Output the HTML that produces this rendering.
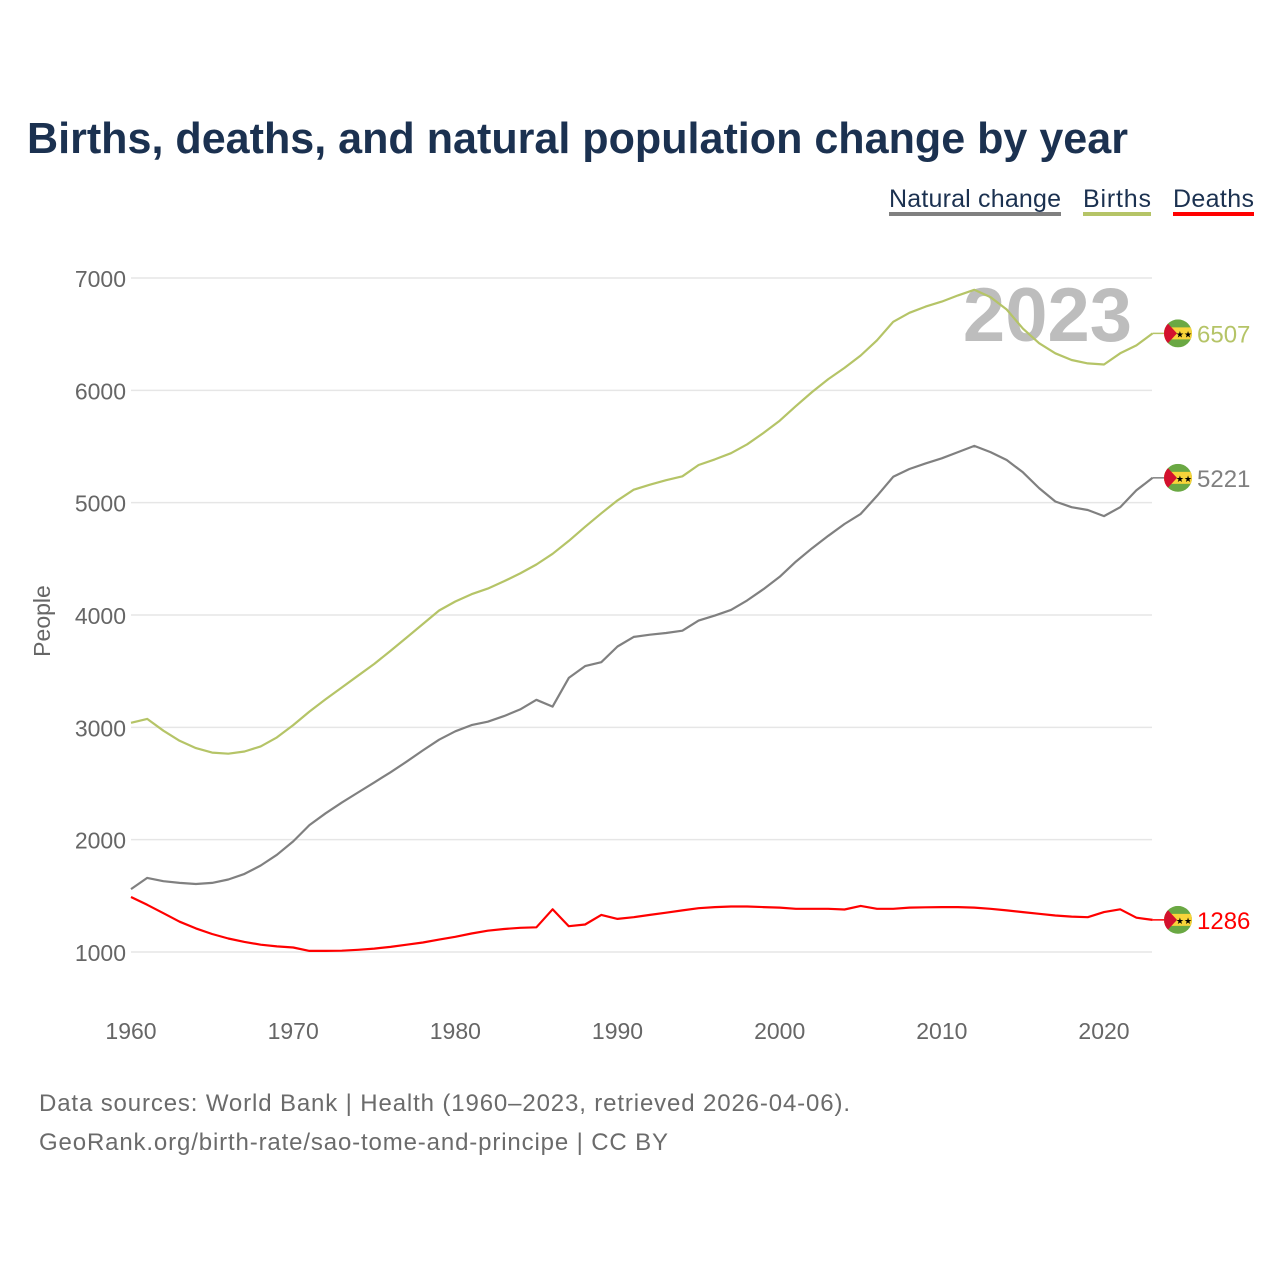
<!DOCTYPE html>
<html><head><meta charset="utf-8">
<style>
body{margin:0;background:#fff;font-family:"Liberation Sans",sans-serif;}
#wrap{position:relative;width:1280px;height:1280px;overflow:hidden;}
</style></head>
<body>
<div id="wrap">
<svg id="chart" width="1280" height="1280"></svg>
</div>
<script>
const years = [];
for (let y = 1960; y <= 2023; y++) years.push(y);
const births = [3040,3075,2970,2880,2815,2775,2765,2785,2830,2910,3020,3140,3250,3355,3460,3565,3680,3800,3920,4040,4120,4185,4235,4300,4370,4450,4545,4660,4785,4905,5020,5115,5160,5200,5235,5335,5385,5440,5520,5620,5730,5860,5985,6100,6200,6310,6445,6610,6690,6745,6790,6845,6895,6830,6720,6550,6420,6330,6270,6240,6230,6330,6400,6507];
const natural = [1560,1660,1630,1615,1605,1615,1645,1695,1770,1865,1985,2130,2235,2330,2420,2510,2600,2695,2795,2890,2965,3020,3050,3100,3160,3245,3185,3440,3545,3580,3720,3805,3825,3840,3860,3950,3995,4045,4130,4230,4340,4475,4595,4705,4810,4900,5060,5230,5300,5350,5395,5450,5505,5450,5380,5270,5130,5010,4960,4935,4880,4960,5110,5221];
const deaths = [1490,1420,1345,1270,1210,1160,1120,1090,1065,1050,1040,1010,1010,1012,1020,1030,1045,1065,1085,1110,1135,1165,1190,1205,1215,1220,1380,1230,1245,1330,1295,1310,1330,1350,1370,1390,1400,1405,1405,1400,1395,1385,1385,1385,1378,1410,1385,1385,1395,1398,1400,1400,1395,1385,1370,1355,1340,1325,1315,1310,1355,1380,1305,1286];
const yTicks = [1000,2000,3000,4000,5000,6000,7000];
const xTicks = [1960,1970,1980,1990,2000,2010,2020];

const NS = "http://www.w3.org/2000/svg";
const svg = document.getElementById('chart');
const xS = v => 131 + (v - 1960) * (973 / 60);
const yS = v => 952 - (v - 1000) * (674 / 6000);
function mk(tag, attrs, parent) {
  const e = document.createElementNS(NS, tag);
  for (const k in attrs) e.setAttribute(k, attrs[k]);
  (parent || svg).appendChild(e);
  return e;
}
function txt(s, attrs) { const t = mk('text', attrs); t.textContent = s; return t; }

let t = txt('Births, deaths, and natural population change by year', {x:27,y:153,'font-size':44,'font-weight':'bold',fill:'#1b3150',textLength:1101,lengthAdjust:'spacingAndGlyphs'});



const legend = [['Natural change','#808080',889,1061],['Births','#b5c467',1083,1151],['Deaths','#ff0000',1173,1254]];
legend.forEach(l => {
  const g = mk('g', {});
  
  
  const tt = mk('text', {x:l[2],y:207,'font-size':25,fill:'#1b3150',textLength:l[3]-l[2]}, g);
  tt.textContent = l[0];
  mk('rect', {x:l[2],y:212,width:l[3]-l[2],height:4,fill:l[1]}, g);
});

yTicks.forEach(v => {
  const l = mk('line', {x1:131,x2:1152,y1:yS(v),y2:yS(v),stroke:'#e6e6e6','stroke-width':1.5});
  
  
  const tt = txt(String(v), {x:126,y:yS(v)+9,'font-size':23,fill:'#666','text-anchor':'end'});
  
  
});
xTicks.forEach(v => {
  const tt = txt(String(v), {x:xS(v),y:1039,'font-size':23,fill:'#666','text-anchor':'middle'});
  
  
});
t = txt('People', {x:50,y:621,'font-size':23,fill:'#666','text-anchor':'middle',transform:'rotate(-90 50 621)'});



t = txt('2023', {x:1132,y:341,'font-size':76,'font-weight':'bold',fill:'#bdbdbd','text-anchor':'end'});



const series = [['births',births,'#b5c467'],['natural-change',natural,'#808080'],['deaths',deaths,'#ff0000']];
series.forEach(s => {
  const d = s[1].map((v,i) => (i ? 'L' : 'M') + xS(years[i]).toFixed(1) + ',' + yS(v).toFixed(1)).join('');
  const p = mk('path', {d:d,fill:'none',stroke:s[2],'stroke-width':2.2,'stroke-linejoin':'round'});
  
  
  const last = s[1][s[1].length-1];
  const yy = yS(last);
  mk('line', {x1:xS(2023),x2:1166,y1:yy,y2:yy,stroke:s[2],'stroke-width':1.5});
  const g = mk('g', {});
  
  
  const cx = 1178;
  mk('clipPath', {id:'c'+s[0]}, g);
  const cp = g.lastChild; mk('circle', {cx:cx,cy:yy,r:14}, cp);
  const fg = mk('g', {'clip-path':'url(#c'+s[0]+')'}, g);
  mk('rect', {x:cx-14,y:yy-14,width:28,height:28,fill:'#6aa843'}, fg);
  mk('rect', {x:cx-14,y:yy-6,width:28,height:12,fill:'#f8d43a'}, fg);
  mk('polygon', {points:`${cx-14},${yy-14} ${cx-1},${yy} ${cx-14},${yy+14}`,fill:'#d3112e'}, fg);
  mk('text', {x:cx+6,y:yy+4,'font-size':9,fill:'#000','text-anchor':'middle'}, fg).textContent='★★';
  const lt = txt(String(last), {x:1197,y:yy+9,'font-size':24,fill:s[2]});
  
  
});

t = txt('Data sources: World Bank | Health (1960–2023, retrieved 2026-04-06).', {x:39,y:1111,'font-size':24,fill:'#6b6b6b',textLength:811});


t = txt('GeoRank.org/birth-rate/sao-tome-and-principe | CC BY', {x:39,y:1150,'font-size':24,fill:'#6b6b6b',textLength:629});


</script>
</body></html>
